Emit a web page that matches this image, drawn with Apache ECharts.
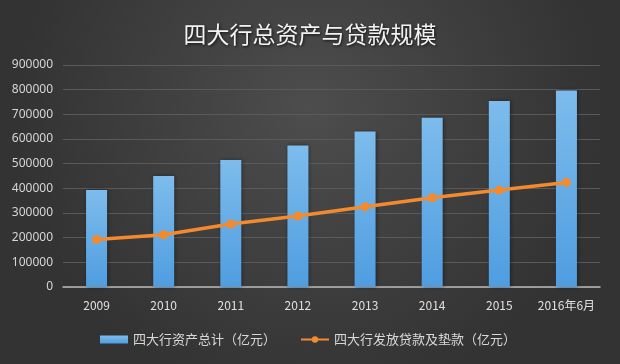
<!DOCTYPE html>
<html><head><meta charset="utf-8">
<script src="https://cdn.jsdelivr.net/npm/echarts@6/dist/echarts.min.js"></script>
<style>html,body{margin:0;padding:0;}#c{width:620px;height:364px;}</style>
</head><body><div id="c"></div>
<script>
const categories = ['2009','2010','2011','2012','2013','2014','2015','2016年6月'];
const totalAssets = [393000, 450000, 515000, 574000, 630000, 686000, 754000, 797000];
const loans = [193000, 212000, 255000, 288000, 325000, 362000, 393000, 424000];
const yTicks = [0,100000,200000,300000,400000,500000,600000,700000,800000,900000];

const chart = echarts.init(document.getElementById('c'), null, {renderer:'canvas'});
chart.setOption({
  backgroundColor: new echarts.graphic.RadialGradient(0.5, 0.3, 0.8, [
    {offset:0, color:'#4d4d4d'}, {offset:1, color:'#333333'}
  ]),
  animation: false,
  title: {
    text: '四大行总资产与贷款规模', left: 'center', top: 18,
    textStyle: {color:'#f2f2f2', fontSize:23, fontWeight:'normal',
      fontFamily:'Noto Sans CJK SC', textShadowColor:'rgba(0,0,0,0.8)', textShadowBlur:3, textShadowOffsetX:1, textShadowOffsetY:1}
  },
  legend: {
    bottom: 13, left: 95, itemGap: 24, itemWidth: 28, itemHeight: 8,
    textStyle: {color:'#d8d8d8', fontSize:13, fontFamily:'Noto Sans CJK SC'},
    data: [{name:'四大行资产总计（亿元）', icon:'rect'}, {name:'四大行发放贷款及垫款（亿元）'}]
  },
  grid: {left: 63, right: 20, top: 65, bottom: 77, containLabel: false},
  xAxis: {
    type: 'category', data: categories,
    axisLine: {lineStyle:{color:'#b8b8b8', width:1.5}},
    axisTick: {show:false},
    axisLabel: {color:'#e0e0e0', fontSize:12, margin:12, interval:0, fontFamily:'Noto Sans CJK SC'}
  },
  yAxis: {
    type: 'value', min: 0, max: 900000, interval: 100000,
    axisLine: {show:false}, axisTick: {show:false},
    splitLine: {lineStyle:{color:'#5a5a5a', width:1}},
    axisLabel: {color:'#d6d6d6', fontSize:12, margin:10, fontFamily:'Noto Sans',
      formatter: v => yTicks.includes(v) ? String(v) : ''}
  },
  series: [
    {
      name: '四大行资产总计（亿元）', type: 'bar', data: totalAssets, barWidth: 21,
      itemStyle: {color: new echarts.graphic.LinearGradient(0,0,0,1,[
        {offset:0, color:'#7dbcec'}, {offset:1, color:'#4f9de0'}]),
        shadowColor:'rgba(0,0,0,0.4)', shadowBlur:4, shadowOffsetX:1}
    },
    {
      name: '四大行发放贷款及垫款（亿元）', type: 'line', data: loans,
      symbol: 'circle', symbolSize: 9,
      lineStyle: {color:'#f28a30', width:3.5},
      itemStyle: {color:'#f28a30'}
    }
  ]
});
</script></body></html>
